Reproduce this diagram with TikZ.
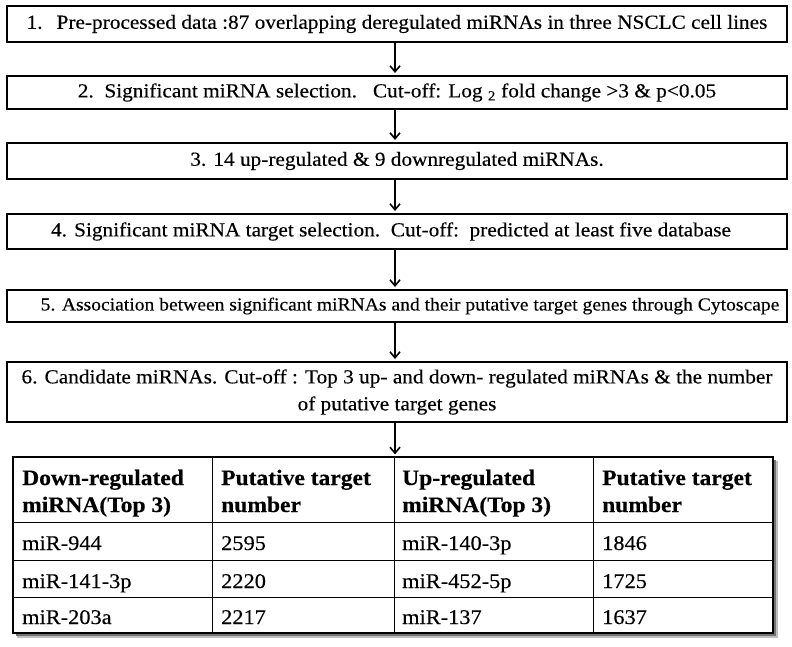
\documentclass[tikz,border=0pt]{standalone}
\usepackage{fontspec}
\setmainfont{Liberation Serif}[FakeStretch=1.07, FakeBold=0.3]
\usetikzlibrary{arrows.meta}
\begin{document}
\begin{tikzpicture}[x=1pt,y=-1pt,
  stepbox/.style={draw, line width=2pt, minimum width=780pt, inner sep=0pt,
    font=\fontsize{19.9}{27}\selectfont, align=center},
  arr/.style={line width=1.6pt, -{Straight Barb[length=6pt,width=10pt,line width=1.6pt]}, shorten >=2pt},
  cell/.style={anchor=base west, inner sep=0pt, font=\fontsize{20.9}{26}\selectfont},
  head/.style={anchor=base west, inner sep=0pt, align=left, font=\fontsize{22}{27}\selectfont\bfseries},
  grid/.style={line width=1pt}
]
\useasboundingbox (0,0) rectangle (792,646);

\node[stepbox, minimum height=36pt] (b1) at (397,24) {1.\hspace{14pt}Pre-processed data :87 overlapping deregulated miRNAs in three NSCLC cell lines};
\node[stepbox, minimum height=33pt] (b2) at (397,92.5) {2.~~Significant miRNA selection.~~~Cut-off: Log \textsubscript{2} fold change >3 \& p<0.05};
\node[stepbox, minimum height=36pt] (b3) at (397,161) {3. 14 up-regulated \& 9 downregulated miRNAs.};
\node[stepbox, minimum height=35pt] (b4) at (397,231.5) {4. Significant miRNA target selection.~~Cut-off:~~predicted at least five database\hspace*{12pt}};
\node[stepbox, minimum height=32pt, font=\fontsize{18.3}{22}\selectfont] (b5) at (397,306) {\hspace*{26pt}5. Association between significant miRNAs and their putative target genes through Cytoscape};
\node[stepbox, minimum height=60pt] (b6) at (397,392) {6. Candidate miRNAs. Cut-off : Top 3 up- and down- regulated miRNAs \& the number\\of putative target genes};

% table shadow
\fill[black!25] (17,461) rectangle (778,638);
\fill[black!55] (16,460) rectangle (776,636);
\node[draw, line width=1.2pt, fill=white, minimum width=760pt, minimum height=176pt, inner sep=0pt] (tbl) at (393,545) {};
\draw[grid] (212,457) -- (212,633);
\draw[grid] (394,457) -- (394,633);
\draw[grid] (593,457) -- (593,633);
\draw[grid] (13,522) -- (773,522);
\draw[grid] (13,560) -- (773,560);
\draw[grid] (13,597) -- (773,597);

\node[head] (h1) at (22,512) {Down-regulated\\miRNA(Top 3)};
\node[head] (h2) at (221,512) {Putative target\\number};
\node[head] (h3) at (402,512) {Up-regulated\\miRNA(Top 3)};
\node[head] (h4) at (602,512) {Putative target\\number};

\node[cell] (c11) at (22,550) {miR-944};
\node[cell] (c12) at (221,550) {2595};
\node[cell] (c13) at (402,550) {miR-140-3p};
\node[cell] (c14) at (602,550) {1846};
\node[cell] (c21) at (22,588) {miR-141-3p};
\node[cell] (c22) at (221,588) {2220};
\node[cell] (c23) at (402,588) {miR-452-5p};
\node[cell] (c24) at (602,588) {1725};
\node[cell] (c31) at (22,624) {miR-203a};
\node[cell] (c32) at (221,624) {2217};
\node[cell] (c33) at (402,624) {miR-137};
\node[cell] (c34) at (602,624) {1637};

\draw[arr] ([xshift=-2pt]b1.south) -- ([xshift=-2pt]b2.north);
\draw[arr] ([xshift=-2pt]b2.south) -- ([xshift=-2pt]b3.north);
\draw[arr] ([xshift=-2pt]b3.south) -- ([xshift=-2pt]b4.north);
\draw[arr] ([xshift=-2pt]b4.south) -- ([xshift=-2pt]b5.north);
\draw[arr] ([xshift=-2pt]b5.south) -- ([xshift=-2pt]b6.north);
\draw[arr] ([xshift=-2pt]b6.south) -- ([xshift=2pt]tbl.north);
\end{tikzpicture}
\end{document}
